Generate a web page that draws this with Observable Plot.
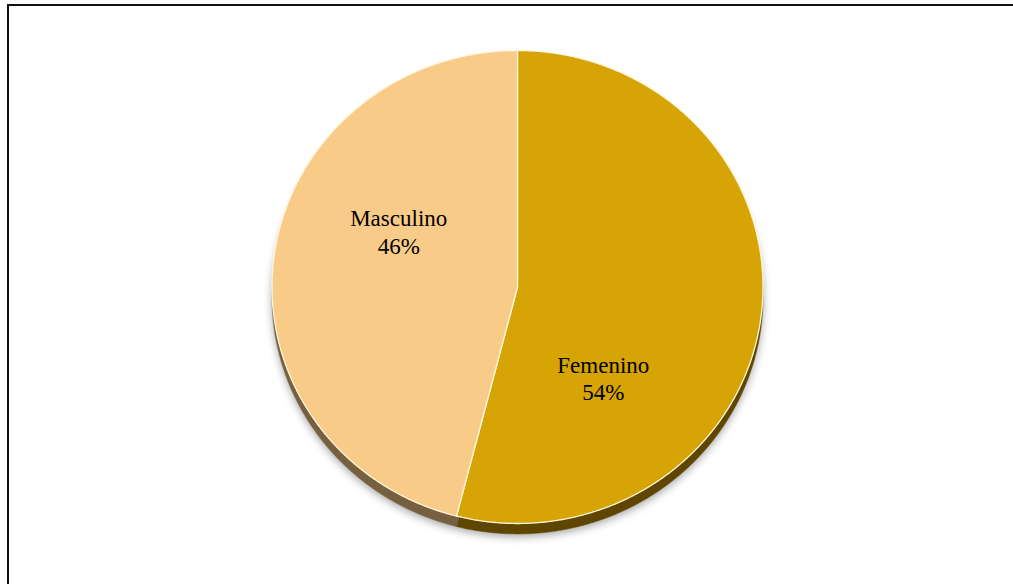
<!DOCTYPE html>
<html><head><meta charset="utf-8">
<script src="https://cdn.jsdelivr.net/npm/d3@7"></script>
<script src="https://cdn.jsdelivr.net/npm/@observablehq/plot@0.6"></script>
<style>
html,body{margin:0;padding:0;background:#fff;}
#wrap{position:relative;width:1013px;height:584px;overflow:hidden;}
#frame{position:absolute;left:7px;top:4px;right:-10px;bottom:-10px;border-left:2px solid #111;border-top:2px solid #111;}
#chart{position:absolute;left:0;top:0;}
</style></head><body>
<div id="wrap"><div id="chart"></div><div id="frame"></div></div>
<script>
// ---- data ----
const categories = ["Femenino", "Masculino"];
const values = [54, 46];
const valueLabels = ["54%", "46%"];

// ---- styles ----
const topColors = ["#D6A404", "#F8CC88"];
const sideColors = ["#5E4600", "#76603F"];
const labelNudge = [[-36, 76], [3, -41]];
const depth = 0.044;

const pie = d3.pie().sort(null).value(d => d.value).startAngle(0).endAngle(2 * Math.PI);
const arcs = pie(categories.map((c, i) => ({category: c, value: values[i], label: valueLabels[i]})));

function wedge(a0, a1, dy) {
  const pts = [{x: 0, y: dy}];
  const n = Math.max(2, Math.ceil((a1 - a0) / 0.005));
  for (let k = 0; k <= n; k++) {
    const a = a0 + (a1 - a0) * k / n;
    pts.push({x: Math.sin(a), y: Math.cos(a) + dy});
  }
  pts.push({x: 0, y: dy});
  return pts;
}

const marks = [];
// soft shadow
marks.push(Plot.line(wedge(0, 2 * Math.PI, -depth - 0.012), {x: "x", y: "y", fill: "#000", fillOpacity: 0.35, stroke: "none", ariaDescription: "shadow"}));
// side edges
arcs.forEach((a, i) => {
  marks.push(Plot.line(wedge(a.startAngle, a.endAngle, -depth), {x: "x", y: "y", fill: sideColors[i], stroke: sideColors[i], strokeWidth: 0.5}));
});
// top faces
arcs.forEach((a, i) => {
  marks.push(Plot.line(wedge(a.startAngle, a.endAngle, 0), {x: "x", y: "y", fill: topColors[i], stroke: "#FFF6DC", strokeWidth: 1.3, strokeLinejoin: "round"}));
});
// labels
arcs.forEach((a, i) => {
  const mid = (a.startAngle + a.endAngle) / 2;
  marks.push(Plot.text([a], {
    x: d => 0.5 * Math.sin(mid),
    y: d => 0.5 * Math.cos(mid),
    text: d => d.data.category + "\n" + d.data.label,
    fontSize: 23, fontFamily: "Liberation Serif, Times New Roman, serif",
    lineHeight: 1.2, fill: "#000",
    dx: labelNudge[i][0], dy: labelNudge[i][1]
  }));
});

const chart = Plot.plot({
  width: 1013, height: 584,
  margin: 0,
  x: {domain: [-1, 1], range: [271.5, 762.5], axis: null},
  y: {domain: [-1, 1], range: [523, 50], axis: null},
  style: {background: "transparent", overflow: "visible"},
  marks
});

const svg = d3.select(chart);
const defs = svg.insert("defs", ":first-child");
defs.append("filter").attr("id", "blur").attr("x", "-20%").attr("y", "-20%").attr("width", "140%").attr("height", "140%")
  .append("feGaussianBlur").attr("stdDeviation", 4);
svg.selectAll('g[aria-description="shadow"]').attr("filter", "url(#blur)");

document.getElementById("chart").appendChild(chart);
</script>
</body></html>
